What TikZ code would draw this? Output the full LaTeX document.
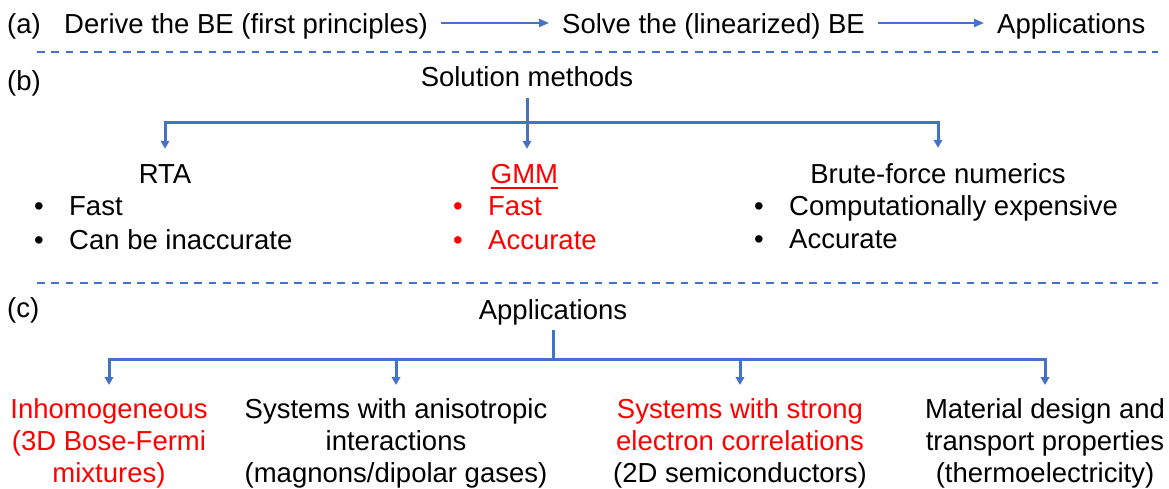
\documentclass[tikz,border=0pt]{standalone}
\usepackage{fontspec}
\setmainfont{Liberation Sans}
\usetikzlibrary{arrows.meta}
\definecolor{lblue}{HTML}{4472C4}
\definecolor{mred}{HTML}{FF0000}
\newcommand{\bul}{\makebox[35pt][l]{•}}
\begin{document}
\begin{tikzpicture}[x=1pt,y=-1pt,
  every node/.style={font=\fontsize{27.5}{32}\selectfont, inner sep=0pt},
  flow/.style={anchor=base west, text height=22pt, text depth=0pt, inner xsep=13pt},
  flowarrow/.style={draw=lblue, line width=2pt, -{Triangle[length=10pt,width=8pt]}},
  sepline/.style={draw=lblue, line width=2pt, dash pattern=on 7.7pt off 6.6pt},
  tree/.style={draw=lblue, line width=3pt},
  head/.style={anchor=base, text height=35pt},
  item/.style={anchor=north, align=center},
  redtext/.style={text=mred}]
\useasboundingbox (0,0) rectangle (1169,489);

% (a)
\node[anchor=base west] (la) at (7,34) {(a)};
\node[flow] (a1) at (51,34) {Derive the BE (first principles)};
\node[flow] (a2) at (549,34) {Solve the (linearized) BE};
\node[flow] (a3) at (984,34) {Applications};
\draw[flowarrow] (a1) -- (a2);
\draw[flowarrow] (a2) -- (a3);

\coordinate (d1l) at (37,52);
\coordinate (d1r) at (1158,52);
\draw[sepline] (d1l) -- (d1r);

% (b)
\node[anchor=base west] (lb) at (7,91) {(b)};
\node[anchor=base, text depth=11pt] (sm) at (527,87) {Solution methods};
\coordinate (bj) at (527,123);
\coordinate (bl) at (165,123);
\coordinate (br) at (938,123);
\node[head] (rta) at (165,184) {RTA};
\node[head, redtext] (gmm) at (524.5,184) {GMM};
\node[head] (bf) at (938,183) {Brute-force numerics};
\draw[mred, line width=2.2pt] ([yshift=-3.8pt]gmm.base west) -- ([yshift=-3.8pt]gmm.base east);
\draw[tree] (sm.south) -- (bj);
\draw[tree, {Triangle[length=8pt,width=8.5pt]}-{Triangle[length=8pt,width=8.5pt]}] (rta.north) -- (bl) -- (br) -- (bf.north);
\draw[tree, -{Triangle[length=8pt,width=8.5pt]}] (bj) -- (bj |- gmm.north);

\node[anchor=base west] (r1) at (34,215) {\bul Fast};
\node[anchor=base west] (r2) at (34,249) {\bul Can be inaccurate};
\node[anchor=base west, redtext] (g1) at (453,215) {\bul Fast};
\node[anchor=base west, redtext] (g2) at (453,249) {\bul Accurate};
\node[anchor=base west] (b1) at (754,215) {\bul Computationally expensive};
\node[anchor=base west] (b2) at (754,248) {\bul Accurate};

\coordinate (d2l) at (37,283);
\coordinate (d2r) at (1158,283);
\draw[sepline] (d2l) -- (d2r);

% (c)
\node[anchor=base west] (lc) at (7,317) {(c)};
\node[anchor=base, text depth=11pt] (ap) at (553,319) {Applications};
\coordinate (cj) at (553,359);
\coordinate (c1) at (109,359);
\coordinate (c2) at (396,359);
\coordinate (c3) at (740,359);
\coordinate (c4) at (1045,359);
\node[item, redtext] (i1) at (109,385) {\rule{0pt}{33pt}Inhomogeneous\\(3D Bose-Fermi\\mixtures)};
\node[item] (i2) at (396,385) {\rule{0pt}{33pt}Systems with anisotropic\\interactions\\(magnons/dipolar gases)};
\node[item] (i3) at (740,385) {\rule{0pt}{33pt}\textcolor{mred}{Systems with strong}\\\textcolor{mred}{electron correlations}\\(2D semiconductors)};
\node[item] (i4) at (1045,385) {\rule{0pt}{33pt}Material design and\\transport properties\\(thermoelectricity)};
\draw[tree] (ap.south) -- (cj);
\draw[tree, {Triangle[length=8pt,width=8.5pt]}-{Triangle[length=8pt,width=8.5pt]}] (i1.north) -- (c1) -- (c4) -- (i4.north);
\draw[tree, -{Triangle[length=8pt,width=8.5pt]}] (c2) -- (c2 |- i2.north);
\draw[tree, -{Triangle[length=8pt,width=8.5pt]}] (c3) -- (c3 |- i3.north);
\end{tikzpicture}
\end{document}
